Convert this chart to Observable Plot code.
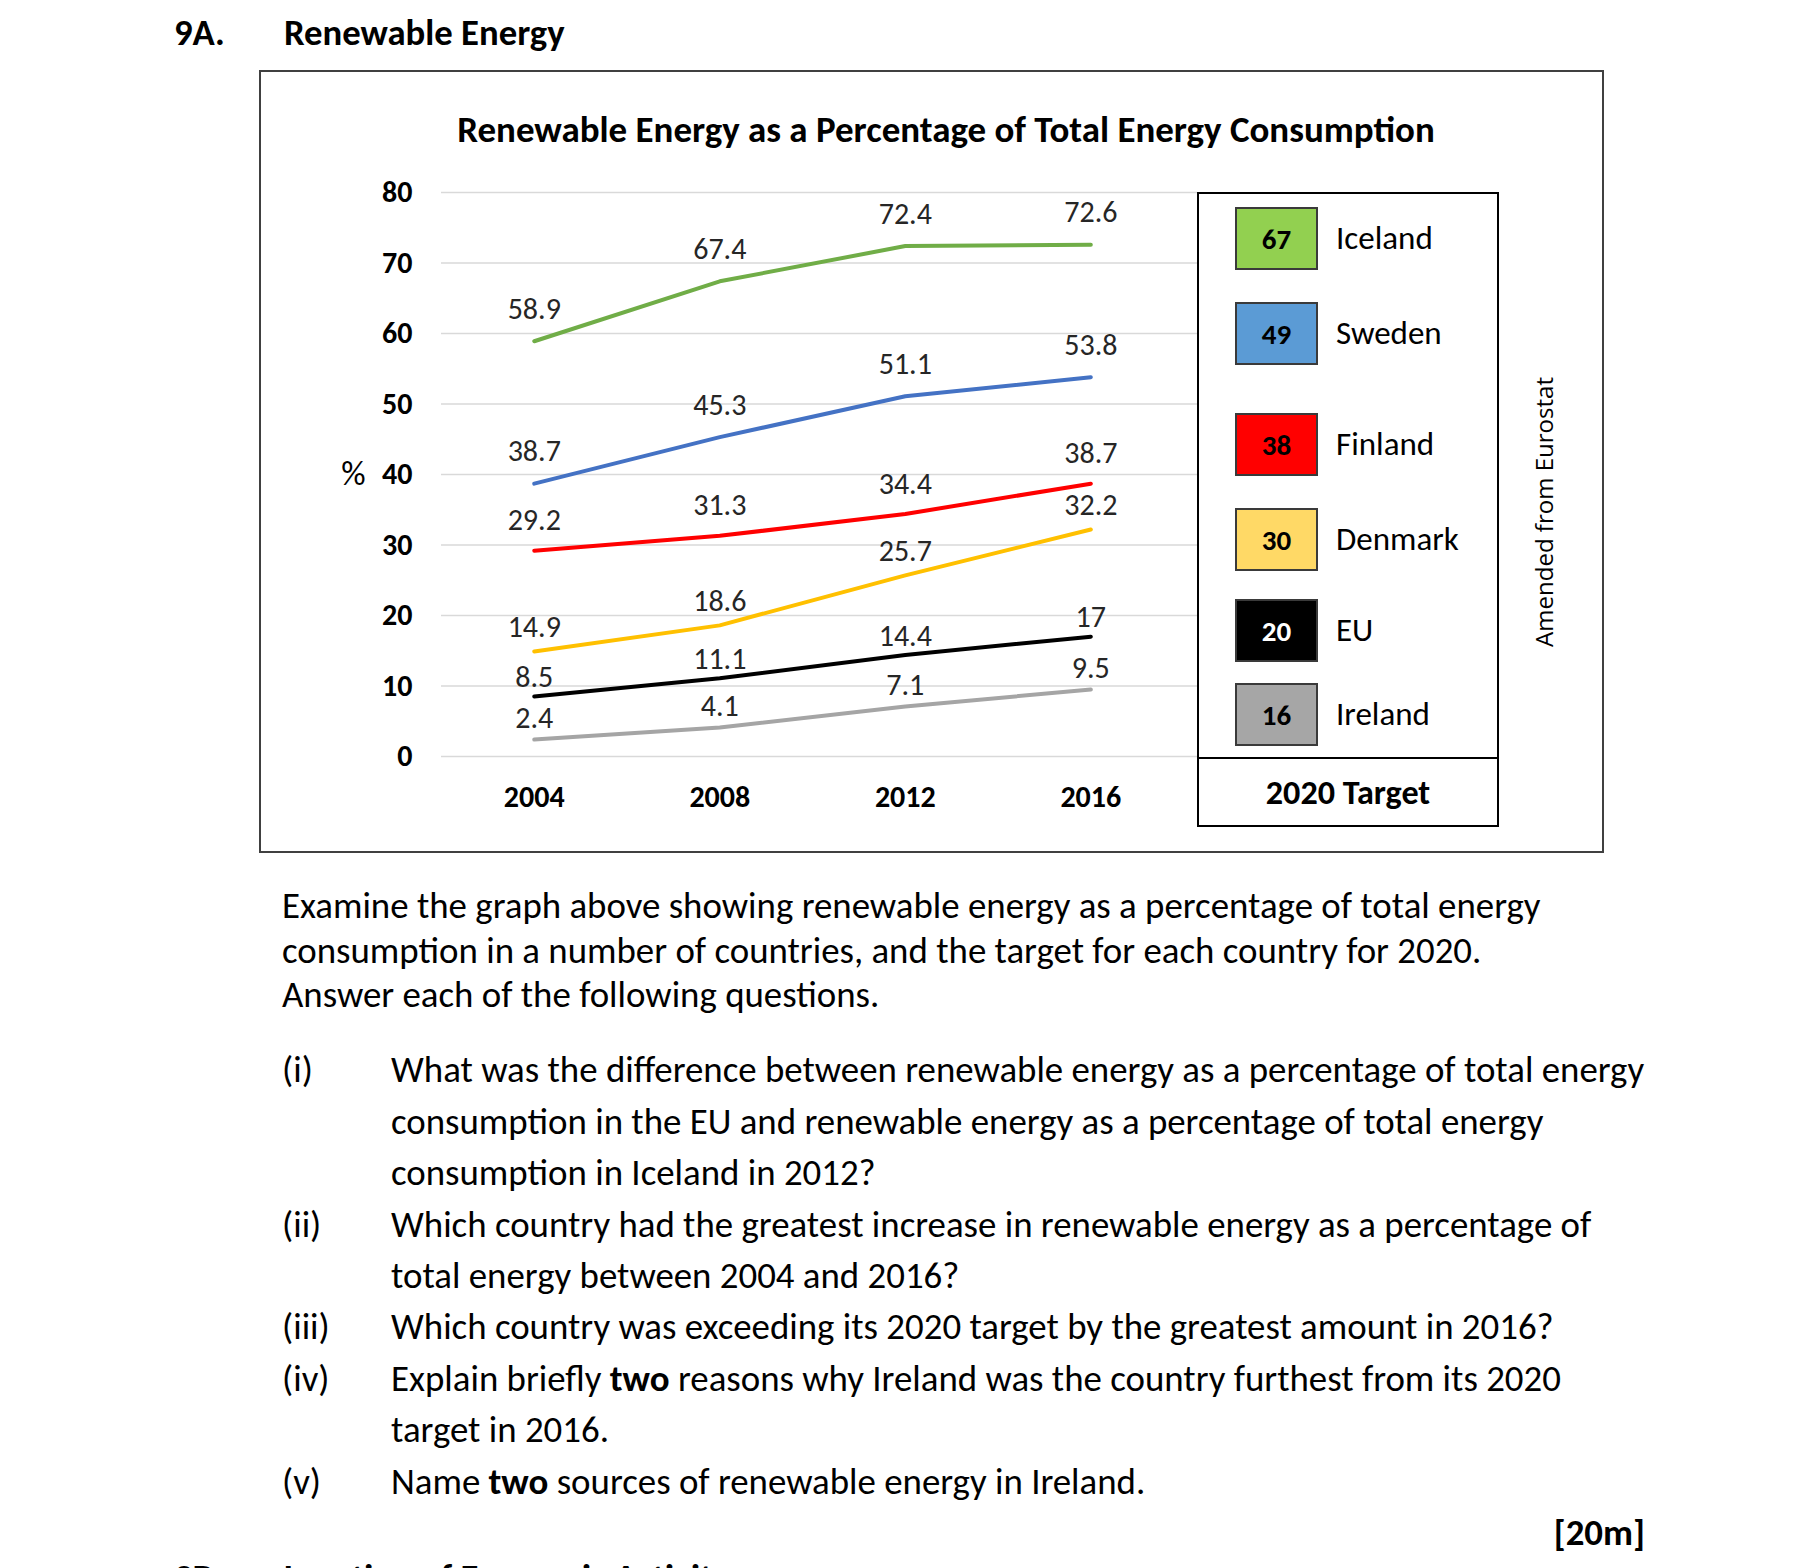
<!DOCTYPE html>
<html><head><meta charset="utf-8">
<script src="https://cdn.jsdelivr.net/npm/d3@7"></script>
<script src="https://cdn.jsdelivr.net/npm/@observablehq/plot@0.6"></script>
<style>
html,body{margin:0;padding:0;background:#fff;}
#page{position:relative;width:1818px;height:1568px;overflow:hidden;color:#000;}
.abs{position:absolute;white-space:nowrap;line-height:1;}
</style></head><body><div id="page"></div>
<script>
// ---------------- data ----------------
const years = [2004, 2008, 2012, 2016];
const countries = ["Iceland", "Sweden", "Finland", "Denmark", "EU", "Ireland"];
const iceland = [58.9, 67.4, 72.4, 72.6];
const sweden  = [38.7, 45.3, 51.1, 53.8];
const finland = [29.2, 31.3, 34.4, 38.7];
const denmark = [14.9, 18.6, 25.7, 32.2];
const eu      = [8.5, 11.1, 14.4, 17];
const ireland = [2.4, 4.1, 7.1, 9.5];
const targets2020 = [67, 49, 38, 30, 20, 16];
const yTicks = [0, 10, 20, 30, 40, 50, 60, 70, 80];

const chartTitle = "Renewable Energy as a Percentage of Total Energy Consumption";
const paragraph = [
  "Examine the graph above showing renewable energy as a percentage of total energy",
  "consumption in a number of countries, and the target for each country for 2020.",
  "Answer each of the following questions."
];
const questionLabels = ["(i)", "(ii)", "(iii)", "(iv)", "(v)"];
const questionLines = [
  ["What was the difference between renewable energy as a percentage of total energy",
   "consumption in the EU and renewable energy as a percentage of total energy",
   "consumption in Iceland in 2012?"],
  ["Which country had the greatest increase in renewable energy as a percentage of",
   "total energy between 2004 and 2016?"],
  ["Which country was exceeding its 2020 target by the greatest amount in 2016?"],
  ["Explain briefly <b>two</b> reasons why Ireland was the country furthest from its 2020",
   "target in 2016."],
  ["Name <b>two</b> sources of renewable energy in Ireland."]
];

// ---------------- styles ----------------
const FONT = "Carlito, Calibri, Lato, sans-serif";
const lineColors = ["#70AD47", "#4472C4", "#FF0000", "#FFC000", "#000000", "#A5A5A5"];
const swatchColors = ["#92D050", "#5B9BD5", "#FF0000", "#FFD966", "#000000", "#A6A6A6"];
const swatchTextColors = ["#000", "#000", "#000", "#000", "#fff", "#000"];
const labelLift = {Iceland: 32, Sweden: 32, Finland: 30, Denmark: 24, EU: 19, Ireland: 21};

const seriesValues = [iceland, sweden, finland, denmark, eu, ireland];
const rows = countries.flatMap((c, i) => seriesValues[i].map((v, j) => ({country: c, year: years[j], value: v})));

const page = document.getElementById("page");
function addText(html, {x, cy, size, weight = "normal", anchor = "start", family = FONT, fitW = null, color = "#000", rotate = 0}) {
  const el = document.createElement("div");
  el.className = "abs";
  el.innerHTML = html;
  el.style.fontFamily = family;
  el.style.fontSize = size + "px";
  el.style.fontWeight = weight;
  el.style.color = color;
  el.style.left = x + "px";
  el.style.top = cy + "px";
  const tx = anchor === "middle" ? "-50%" : anchor === "end" ? "-100%" : "0";
  el.style.transform = `translate(${tx},-50%)` + (rotate ? ` rotate(${rotate}deg)` : "");
  page.appendChild(el);
  if (fitW) {
    const w = el.offsetWidth;
    el.style.fontSize = (size * fitW / w) + "px";
  }
  return el;
}
function addBox(css) {
  const el = document.createElement("div");
  el.style.position = "absolute";
  el.style.boxSizing = "border-box";
  Object.assign(el.style, css);
  page.appendChild(el);
  return el;
}

// heading
const h = addText("Renewable Energy", {x: 284, cy: 33, size: 32, weight: "bold", fitW: 281});
const hSize = parseFloat(h.style.fontSize);
addText("9A.", {x: 174, cy: 33, size: hSize, weight: "bold"});

// outer frame
addBox({left: "259px", top: "70px", width: "1345px", height: "783px", border: "2px solid #404040"});

// chart
const W = 1341, H = 781;
const marks = [
  Plot.ruleY(yTicks, {stroke: "#d9d9d9", strokeWidth: 1.5}),
  Plot.axisY({ticks: yTicks, tickSize: 0, tickPadding: 29, fontSize: 30, fontWeight: "bold", label: null, tickFormat: d => String(d)}),
  Plot.axisX({ticks: years, tickSize: 0, tickPadding: 29, fontSize: 30, fontWeight: "bold", label: null, tickFormat: d => String(d)}),
  Plot.line(rows, {x: "year", y: "value", z: "country", stroke: "country", strokeWidth: 4, strokeLinecap: "round", strokeLinejoin: "round"}),
  ...countries.map(c => Plot.text(rows.filter(r => r.country === c), {
    x: "year", y: "value", text: d => String(d.value), dy: -labelLift[c], fontSize: 30, fill: "#262626"
  })),
  Plot.text(["%"], {frameAnchor: "left", y: () => 40, text: d => d, dx: -88, textAnchor: "middle", fontSize: 34, fill: "#000"})
];
const chart = Plot.plot({
  width: W, height: H,
  marginLeft: 180, marginRight: 405, marginTop: 121, marginBottom: 96,
  style: {fontFamily: FONT, background: "transparent", overflow: "visible"},
  x: {type: "linear", domain: [2002, 2018.3], label: null},
  y: {domain: [0, 80], label: null},
  color: {domain: countries, range: lineColors},
  marks
});
chart.style.position = "absolute";
chart.style.left = "261px";
chart.style.top = "71px";
page.appendChild(chart);

// chart title
addText(chartTitle, {x: 946, cy: 130, size: 30, weight: "bold", anchor: "middle", fitW: 978});

// legend (2020 targets)
addBox({left: "1197px", top: "192px", width: "302px", height: "635px", border: "2px solid #000", background: "#fff"});
addBox({left: "1197px", top: "757px", width: "302px", height: "2px", background: "#000"});
const legendRowY = [238, 332.5, 443.5, 538.5, 629.5, 714];
countries.forEach((c, i) => {
  const cy = legendRowY[i];
  addBox({left: "1235px", top: (cy - 31) + "px", width: "83px", height: "63px", background: swatchColors[i], border: "2px solid #3a3a3a"});
  addText(String(targets2020[i]), {x: 1276.5, cy: cy + 1, size: 29, weight: "bold", anchor: "middle", color: swatchTextColors[i]});
  addText(c, {x: 1336, cy: cy, size: 33});
});
addText("2020 Target", {x: 1348, cy: 793, size: 30, weight: "bold", anchor: "middle", fitW: 165});

// source note
addText("Amended from Eurostat", {x: 1544, cy: 512, size: 22, family: "'Open Sans', sans-serif", anchor: "middle", rotate: -90, fitW: 270});

// body paragraph
const p0 = addText(paragraph[0], {x: 282, cy: 906, size: 32, fitW: 1259});
const bodySize = parseFloat(p0.style.fontSize);
const paraY = [906, 951, 995];
paragraph.slice(1).forEach((t, i) => addText(t, {x: 282, cy: paraY[i + 1], size: bodySize}));

// questions
const qLineY = [[1070, 1122, 1173], [1225, 1276], [1327], [1379, 1430], [1482]];
questionLabels.forEach((lab, i) => {
  addText(lab, {x: 282, cy: qLineY[i][0], size: bodySize});
  questionLines[i].forEach((t, j) => addText(t, {x: 391, cy: qLineY[i][j], size: bodySize}));
});

addText("[20m]", {x: 1645, cy: 1533, size: bodySize, weight: "bold", anchor: "end"});

// next section (cut off at the page edge, as in the source page)
addText("9B.", {x: 174, cy: 1578, size: hSize, weight: "bold"});
addText("Location of Economic Activity", {x: 284, cy: 1578, size: hSize, weight: "bold"});
</script>
</body></html>
